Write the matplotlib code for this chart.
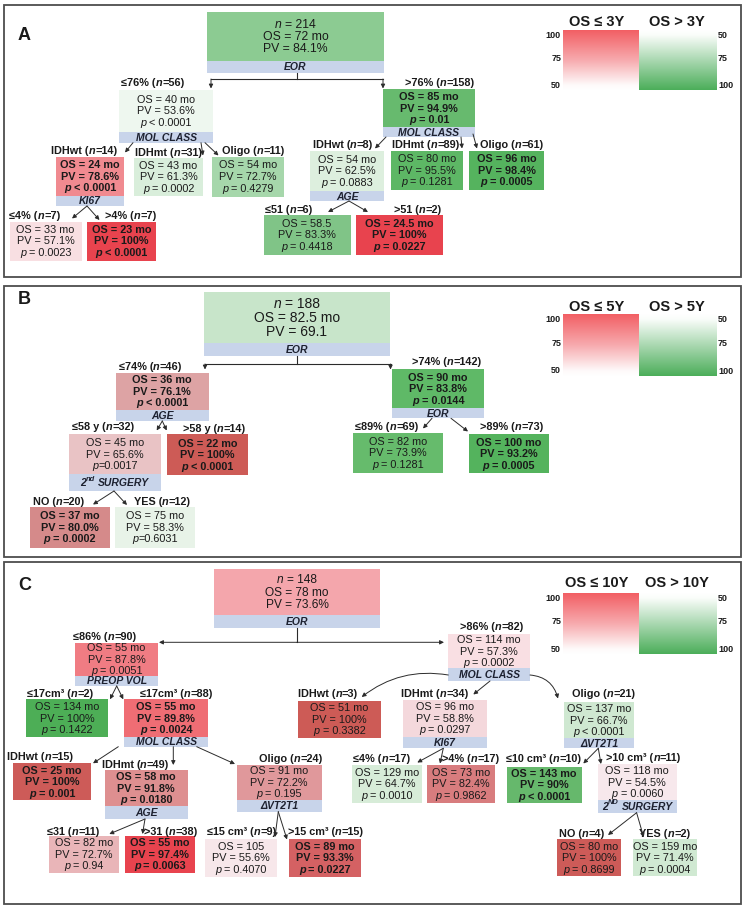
import numpy as np
import matplotlib.pyplot as plt
from matplotlib.patches import Rectangle
from matplotlib.colors import LinearSegmentedColormap

plt.rcParams['font.family'] = ['Liberation Sans', 'DejaVu Sans']

# ---------------- data ----------------
# panel A (OS threshold 3Y)
A_split = ['', '≤76%', '>76%', 'IDHwt', 'IDHmt', 'Oligo', 'IDHwt', 'IDHmt', 'Oligo', '≤4%', '>4%', '≤51', '>51']
A_n = [214, 56, 158, 14, 31, 11, 8, 89, 61, 7, 7, 6, 2]
A_os = ['72 mo', '40 mo', '85 mo', '24 mo', '43 mo', '54 mo', '54 mo', '80 mo', '96 mo', '33 mo', '23 mo', '58.5', '24.5 mo']
A_pv = ['84.1%', '53.6%', '94.9%', '78.6%', '61.3%', '72.7%', '62.5%', '95.5%', '98.4%', '57.1%', '100%', '83.3%', '100%']
A_p = ['', '< 0.0001', '= 0.01', '< 0.0001', '= 0.0002', '= 0.4279', '= 0.0883', '= 0.1281', '= 0.0005',
       '= 0.0023', '< 0.0001', '= 0.4418', '= 0.0227']
A_var = ['EOR', 'MOL CLASS', 'MOL CLASS', 'KI67', '', '', 'AGE', '', '', '', '', '', '']
A_parent = [None, 0, 0, 1, 1, 1, 2, 2, 2, 3, 3, 6, 6]

# panel B (OS threshold 5Y)
B_split = ['', '≤74%', '>74%', '≤58 y', '>58 y', '≤89%', '>89%', 'NO', 'YES']
B_n = [188, 46, 142, 32, 14, 69, 73, 20, 12]
B_os = ['82.5 mo', '36 mo', '90 mo', '45 mo', '22 mo', '82 mo', '100 mo', '37 mo', '75 mo']
B_pv = ['69.1', '76.1%', '83.8%', '65.6%', '100%', '73.9%', '93.2%', '80.0%', '58.3%']
B_p = ['', '< 0.0001', '= 0.0144', '=0.0017', '< 0.0001', '= 0.1281', '= 0.0005', '= 0.0002', '=0.6031']
B_var = ['EOR', 'AGE', 'EOR', '2^nd SURGERY', '', '', '', '', '']
B_parent = [None, 0, 0, 1, 1, 2, 2, 3, 3]

# panel C (OS threshold 10Y)
C_split = ['', '≤86%', '>86%', '≤17cm³', '≤17cm³', 'IDHwt', 'IDHmt', 'Oligo', 'IDHwt', 'IDHmt', 'Oligo',
           '≤31', '>31', '≤15 cm³', '>15 cm³', '≤4%', '>4%', '≤10 cm³', '>10 cm³', 'NO', 'YES']
C_n = [148, 90, 82, 2, 88, 3, 34, 21, 15, 49, 24, 11, 38, 9, 15, 17, 17, 10, 11, 4, 2]
C_os = ['78 mo', '55 mo', '114 mo', '134 mo', '55 mo', '51 mo', '96 mo', '137 mo', '25 mo', '58 mo', '91 mo',
        '82 mo', '55 mo', '105', '89 mo', '129 mo', '73 mo', '143 mo', '118 mo', '80 mo', '159 mo']
C_pv = ['73.6%', '87.8%', '57.3%', '100%', '89.8%', '100%', '58.8%', '66.7%', '100%', '91.8%', '72.2%',
        '72.7%', '97.4%', '55.6%', '93.3%', '64.7%', '82.4%', '90%', '54.5%', '100%', '71.4%']
C_p = ['', '= 0.0051', '= 0.0002', '= 0.1422', '= 0.0024', '= 0.3382', '= 0.0297', '< 0.0001', '= 0.001',
       '= 0.0180', '= 0.195', '= 0.94', '= 0.0063', '= 0.4070', '= 0.0227', '= 0.0010', '= 0.9862',
       '< 0.0001', '= 0.0060', '= 0.8699', '= 0.0004']
C_var = ['EOR', 'PREOP VOL', 'MOL CLASS', '', 'MOL CLASS', '', 'KI67', 'ΔVT2T1', '', 'AGE', 'ΔVT2T1',
         '', '', '', '', '', '', '', '2^ND SURGERY', '', '']
C_parent = [None, 0, 0, 1, 1, 2, 2, 2, 4, 4, 4, 9, 9, 10, 10, 6, 6, 7, 7, 18, 18]

thresholds = ['3Y', '5Y', '10Y']

# ---------------- style / layout ----------------
A_fill = ['#8ccb92', '#eef7ef', '#67ba6e', '#f08a90', '#d9eedb', '#a6d7ab', '#ddefde', '#5db765', '#55b35e',
          '#f8dfe2', '#e8434e', '#80c487', '#e8434e']
B_fill = ['#c8e5ca', '#dda3a4', '#5fb967', '#e9c3c5', '#cd5b56', '#66bb6c', '#54b35d', '#d58a8a', '#e8f3e8']
C_fill = ['#f4a6ac', '#f07c83', '#f9dfe3', '#4dae56', '#ef6d74', '#cd5b56', '#f4d8dc', '#cfe8d1', '#cd5b58',
          '#de8f90', '#e0989b', '#e9b5b8', '#e8434e', '#f7e7ea', '#d46163', '#d7ecd8', '#d87c7e', '#66b86c',
          '#f7e8ec', '#cd5b58', '#d0e9d2']
A_bold = [0, 0, 1, 1, 0, 0, 0, 0, 1, 0, 1, 0, 1]
B_bold = [0, 1, 1, 0, 1, 0, 1, 1, 0]
C_bold = [0, 0, 0, 0, 1, 0, 0, 0, 1, 1, 0, 0, 1, 0, 1, 0, 0, 1, 0, 0, 0]

# box: x0, x1, top, bottom of main part, bottom of strip (or None)
A_box = [(207, 384, 12, 61, 72.7), (119, 213, 90, 131.7, 142.7), (383, 475, 89, 127, 137),
         (56, 124, 156.5, 195.5, 206), (134, 203, 157.5, 196, None), (212, 284, 156.5, 196.5, None),
         (310, 384, 150.7, 191, 201), (391, 463, 150.7, 190, None), (469, 544, 150.7, 190, None),
         (9.5, 81.7, 221.5, 260.5, None), (86.5, 156, 221.5, 260.5, None),
         (263.5, 350.5, 215, 255, None), (356, 443, 215, 255, None)]
A_lab = [None, (153, 83), (440, 83), (84, 151.5), (169, 153), (253, 151.5), (343, 145), (426, 145), (512, 145),
         (35, 216), (131, 216), (289, 210), (418, 210)]
A_arr = [None, None, None, (133, 142.7, 125, 152.5, 0), (201, 142.7, 203, 155.5, 0), (205, 142.7, 218.5, 155.5, 0),
         (386, 137, 375, 148.5, 0), (461, 137, 462, 148.5, 0), (473, 134, 477, 148.5, 0),
         (87, 206, 72, 218.5, 0), (87, 206, 99.5, 220, 0), (349, 201, 328, 212, 0), (349, 201, 368, 212, 0)]
A_stem = (297, 72.7, 79, 211, 383, 88.5)

B_box = [(204, 390, 292, 343.3, 355.7), (116, 208.5, 372.7, 410, 421), (392, 484, 369, 408.3, 418.3),
         (69, 160.5, 434.3, 474.3, 491), (167, 248, 434.3, 475, None), (352.5, 443, 433.3, 472.5, None),
         (469, 548.5, 434.3, 473.3, None), (29.5, 110, 506.7, 547.7, None), (115, 195, 506.7, 547.7, None)]
B_lab = [None, (150.5, 367.5), (446.7, 361.7), (103.3, 427.5), (214, 429), (387, 426.7), (512, 426.7),
         (59, 501.7), (162, 501.7)]
B_arr = [None, None, None, (162.3, 421, 156.7, 430.5, 0), (162.3, 421, 166.7, 430.5, 0),
         (432, 418.3, 423, 428.5, 0), (451, 418.3, 468, 431.5, 0),
         (114, 491, 93, 504.5, 0), (114, 491, 127, 505, 0)]
B_stem = (297, 355.7, 364, 205, 390.5, 369.5)

C_box = [(214, 380, 569, 615, 628.3), (75, 158.3, 642.7, 676, 686), (448.3, 530, 634, 668.3, 680.7),
         (26, 108.3, 699.3, 736.7, None), (124, 208.3, 699.3, 736.7, 746.7), (298.3, 380.7, 701, 737.7, None),
         (402.7, 487.3, 700, 736.7, 748.3), (564, 634, 701.7, 738.3, 748.3), (13.3, 91.2, 763.3, 800, None),
         (104.5, 187.6, 770, 806, 819), (236.7, 321.7, 764.5, 800, 811.7), (48.5, 118.8, 836, 872.7, None),
         (125, 194.8, 836, 872.7, None), (205, 276.7, 838.5, 876.7, None), (289.3, 360.7, 838.5, 876.7, None),
         (351.7, 421.7, 764.5, 802.7, None), (427.3, 495, 764.5, 802.7, None),
         (506.7, 581.7, 766.7, 802.7, None), (597.6, 677, 764, 800, 812.7),
         (556.8, 621.4, 839.3, 876, None), (632.8, 697.4, 839.3, 876, None)]
C_lab = [None, (105, 637.5), (491.7, 626.7), (60, 694.3), (176.7, 694.3), (328, 694), (435, 694), (604, 694),
         (40.4, 756.7), (135.4, 765), (290.8, 759.3), (73.6, 831.7), (171, 831.7), (241.7, 831.7),
         (326, 831.7), (382, 759.3), (471, 759.3), (544, 759.3), (643.7, 758.3), (582, 834), (665, 834)]
C_arr = [None, None, None, (116.7, 686, 110, 699.3, 0), (116.7, 686, 123.3, 699.3, 0),
         (448.3, 675, 361.7, 697, 0.22), (490, 681, 473.3, 694.5, 0), (530, 675, 558, 698.5, -0.35),
         (118.3, 746.7, 93, 763.3, 0), (173.3, 746.7, 173.3, 765, 0), (196.7, 746.7, 235, 764, 0),
         (145, 819, 109.3, 834, 0), (145, 819, 142.5, 834, 0), (278.3, 811.7, 275, 837, 0),
         (278.3, 811.7, 287, 839.5, 0), (443.3, 748.3, 417.3, 762.5, 0), (443.3, 748.3, 440, 763.5, 0),
         (598.3, 748.3, 583.3, 763.5, 0), (598.3, 748.3, 601, 764, 0), (636.6, 812.7, 608, 835, 0),
         (636.6, 812.7, 643.7, 837.3, 0)]
C_stem = (297, 628.3, 642.3, 159, 444, None)

INK = '#1a1a1a'
STRIP = '#c8d4ea'
ARROW = '#2b2b2b'

fig = plt.figure(figsize=(7.45, 9.11), dpi=100)
ax = fig.add_axes([0, 0, 1, 1])
ax.set_xlim(0, 745)
ax.set_ylim(911, 0)
ax.axis('off')
renderer = fig.canvas.get_renderer()

_space = {}


def space_w(size, weight):
    key = (size, weight)
    if key not in _space:
        a = ax.text(0, 0, 'nn', fontsize=size, fontweight=weight)
        b = ax.text(0, 0, 'n n', fontsize=size, fontweight=weight)
        _space[key] = b.get_window_extent(renderer).width - a.get_window_extent(renderer).width
        a.remove()
        b.remove()
    return _space[key]


def rich(x, y, parts, size, bold=False, color=INK):
    # parts: (text, italic, superscript); centred on x
    weight = 'bold' if bold else 'normal'
    objs, offs = [], []
    cur = 0.0
    for s, it, sup in parts:
        lead = len(s) - len(s.lstrip(' '))
        s = s.strip(' ')
        cur += lead * space_w(size, weight)
        fs = size * 0.72 if sup else size
        dy = -size * 0.55 if sup else 0
        t = ax.text(0, y + dy, s, fontsize=fs, fontweight=weight, fontstyle='italic' if it else 'normal',
                    ha='left', va='center', color=color)
        objs.append(t)
        offs.append(cur)
        cur += t.get_window_extent(renderer).width
    start = x - cur / 2
    for t, o in zip(objs, offs):
        t.set_x(start + o)


def strip_parts(s):
    if '^' in s:
        a, b = s.split('^')
        sup, rest = b.split(' ', 1)
        return [(a, True, False), (sup, True, True), (' ' + rest, True, False)]
    return [(s, True, False)]


def arrow(sx, sy, ex, ey, rad=0):
    ax.annotate('', xy=(ex, ey), xytext=(sx, sy),
                arrowprops=dict(arrowstyle='-|>', color=ARROW, lw=0.7, mutation_scale=6,
                                shrinkA=0, shrinkB=0, connectionstyle=f'arc3,rad={rad}'))


def draw_panel(split, n, os_, pv, p, var, parent, fill, bold, box, lab, arr, stem, root_size, root_gap):
    for i in range(len(n)):
        x0, x1, y0, y1, ys = box[i]
        cx = (x0 + x1) / 2
        ax.add_patch(Rectangle((x0, y0), x1 - x0, y1 - y0, fc=fill[i], ec='none'))
        if ys is not None:
            ax.add_patch(Rectangle((x0, y1), x1 - x0, ys - y1, fc=STRIP, ec='none'))
            rich(cx, (y1 + ys) / 2 + 0.5, strip_parts(var[i]), 7.5, bold=True, color='#1d2130')
        if parent[i] is None:
            lines = [[('n', True, False), (' = %d' % n[i], False, False)],
                     [('OS = ' + os_[i], False, False)], [('PV = ' + pv[i], False, False)]]
            size, gap = root_size, root_gap
        else:
            ptxt = ' ' + p[i] if p[i][1] == ' ' else p[i]
            lines = [[('OS = ' + os_[i], False, False)], [('PV = ' + pv[i], False, False)],
                     [('p', True, False), (ptxt, False, False)]]
            size, gap = 7.8, 11.6
            rich(lab[i][0], lab[i][1], [(split[i] + ' (', False, False), ('n', True, False),
                                        ('=%d)' % n[i], False, False)], 7.8, bold=True)
            if arr[i] is not None:
                sx, sy, ex, ey, rad = arr[i]
                arrow(sx, sy, ex, ey, rad)
        cy = (y0 + y1) / 2 + 0.5
        for k, ln in enumerate(lines):
            rich(cx, cy + (k - 1) * gap, ln, size, bold=bool(bold[i]))
    # root stem
    x, ytop, ybar, xl, xr, tip = stem
    ax.plot([x, x], [ytop, ybar], color=ARROW, lw=0.8)
    if tip is None:
        arrow(x, ybar, xl, ybar)
        arrow(x, ybar, xr, ybar)
    else:
        ax.plot([xl, xr], [ybar, ybar], color=ARROW, lw=0.8)
        arrow(xl, ybar, xl, tip)
        arrow(xr, ybar, xr, tip)


red_cm = LinearSegmentedColormap.from_list('r', [(0, '#ffffff'), (0.08, '#fefafa'), (0.5, '#f7aaae'), (1, '#f25f64')])
green_cm = LinearSegmentedColormap.from_list('g', [(0, '#ffffff'), (0.08, '#fafdfa'), (0.5, '#aad8b1'), (1, '#4cae5a')])
grad = np.linspace(1, 0, 200).reshape(-1, 1)


def legend(thr, yt, y0, y1):
    ax.text(597, yt, 'OS ≤ ' + thr, fontsize=10.5, fontweight='bold', ha='center', va='center', color=INK)
    ax.text(677, yt, 'OS > ' + thr, fontsize=10.5, fontweight='bold', ha='center', va='center', color=INK)
    ax.imshow(grad, cmap=red_cm, extent=(563, 639, y1, y0), aspect='auto', origin='upper', vmin=0, vmax=1)
    ax.imshow(grad[::-1], cmap=green_cm, extent=(639, 717, y1, y0), aspect='auto', origin='upper', vmin=0, vmax=1)
    h = y1 - y0
    for s, yy in [('100', y0 + 5), ('75', y0 + 0.47 * h), ('50', y1 - 5)]:
        ax.text(561, yy, s, fontsize=6.5, fontweight='bold', ha='right', va='center', color=INK)
    for s, yy in [('50', y0 + 5), ('75', y0 + 0.47 * h), ('100', y1 - 4)]:
        ax.text(718, yy, s, fontsize=6.5, fontweight='bold', ha='left', va='center', color=INK)


# frames and panel letters
for (yf0, yf1), letter, ly in zip([(5, 277), (285.7, 556.7), (562.3, 904)], ['A', 'B', 'C'], [36, 300, 585]):
    ax.add_patch(Rectangle((4, yf0), 737, yf1 - yf0, fc='none', ec='#4d4d4d', lw=1.3))
    ax.text(18, ly, letter, fontsize=13, fontweight='bold', ha='left', va='center', color=INK)

draw_panel(A_split, A_n, A_os, A_pv, A_p, A_var, A_parent, A_fill, A_bold, A_box, A_lab, A_arr, A_stem, 8.8, 12)
draw_panel(B_split, B_n, B_os, B_pv, B_p, B_var, B_parent, B_fill, B_bold, B_box, B_lab, B_arr, B_stem, 10, 14)
draw_panel(C_split, C_n, C_os, C_pv, C_p, C_var, C_parent, C_fill, C_bold, C_box, C_lab, C_arr, C_stem, 8.6, 12.5)

legend(thresholds[0], 21.7, 30, 90)
legend(thresholds[1], 306.7, 314.3, 375.7)
legend(thresholds[2], 583.3, 593.3, 654)

ax.set_xlim(0, 745)
ax.set_ylim(911, 0)
fig.savefig('out.png', dpi=100)
